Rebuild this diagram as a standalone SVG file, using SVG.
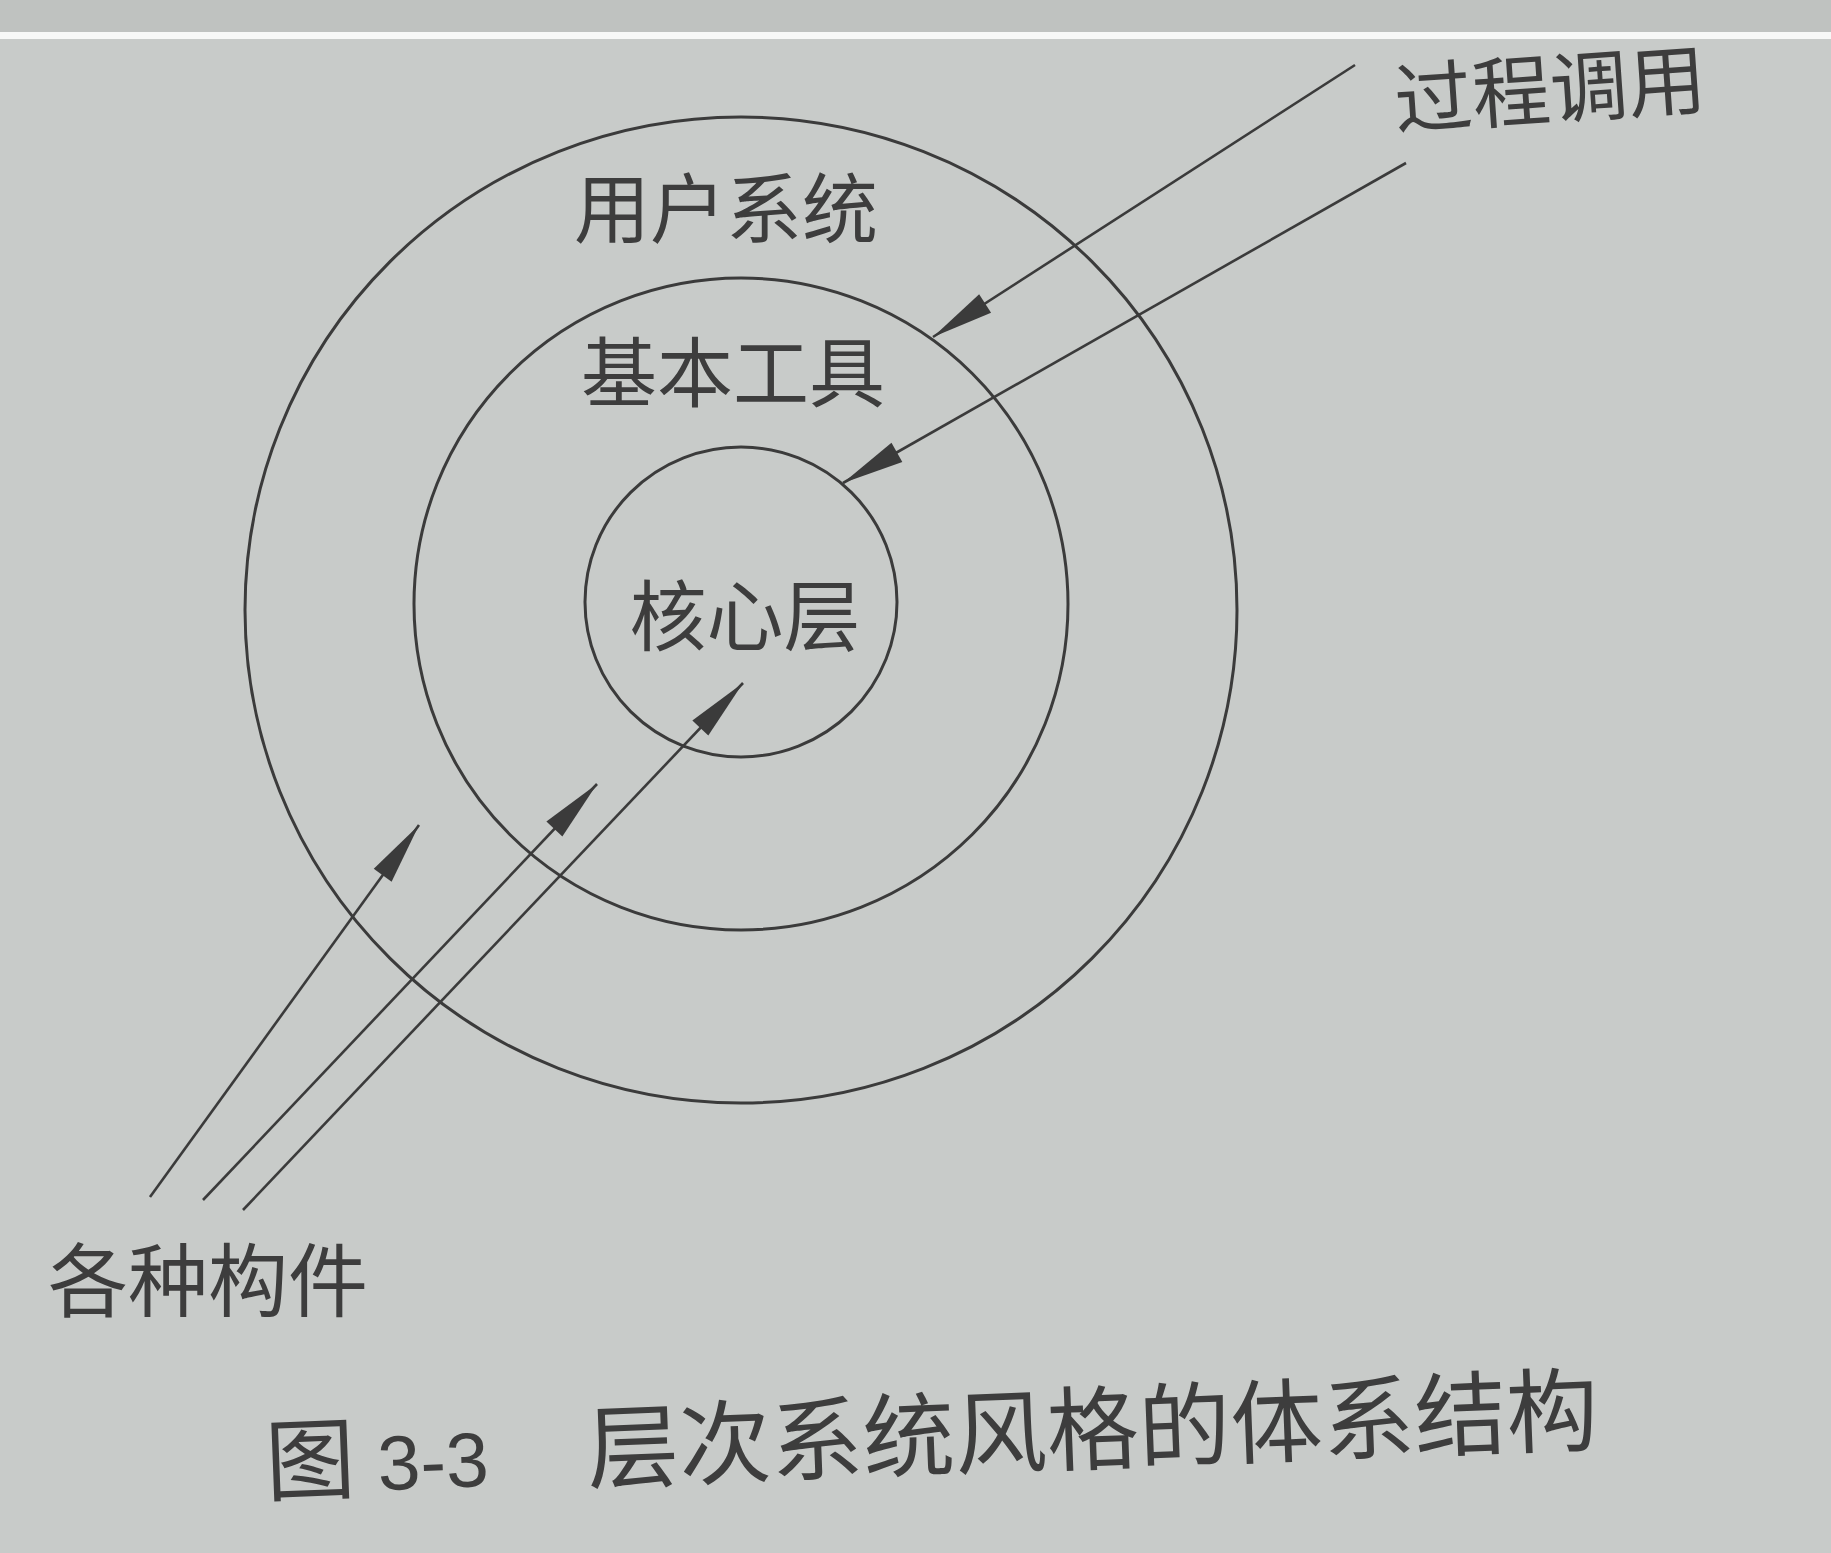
<svg xmlns="http://www.w3.org/2000/svg" width="1831" height="1553" viewBox="0 0 1831 1553">
  <style>
    .ring { fill: none; stroke: #3b3b3b; stroke-width: 3; }
    .conn { fill: none; stroke: #3b3b3b; stroke-width: 2.6; }
    .lbl { font-family: "Noto Sans CJK SC", "Noto Sans", sans-serif; fill: #3d3d3d; text-anchor: middle; }
    .cap { font-family: "Noto Sans CJK SC", "Noto Sans", sans-serif; fill: #3d3d3d; }
    .num { font-family: "Liberation Sans", "Noto Sans", sans-serif; fill: #3d3d3d; }
  </style>
  <defs>
    <marker id="ah" markerUnits="userSpaceOnUse" markerWidth="70" markerHeight="30" viewBox="-66 -15 70 30" refX="0" refY="0" orient="auto">
      <path d="M0,0 L-62,-11 L-62,11 Z" fill="#3b3b3b"/>
    </marker>
  </defs>

  <rect x="0" y="0" width="1831" height="1553" fill="#c8cbc9"/>
  <rect x="0" y="0" width="1831" height="32" fill="#bfc2c0"/>
  <rect x="0" y="32" width="1831" height="7" fill="#f7f8f7"/>

  <g id="user-system">
    <ellipse class="ring" cx="741" cy="610" rx="496" ry="493"/>
    <text class="lbl" x="726" y="237" font-size="76">用户系统</text>
  </g>

  <g id="basic-tools">
    <ellipse class="ring" cx="741" cy="604" rx="327" ry="326"/>
    <text class="lbl" x="733" y="401" font-size="76">基本工具</text>
  </g>

  <g id="core-layer">
    <ellipse class="ring" cx="741" cy="602" rx="156" ry="155"/>
    <text class="lbl" x="745" y="645" font-size="77">核心层</text>
  </g>

  <g id="procedure-call">
    <text class="lbl" x="1550" y="118" font-size="78" transform="rotate(-4 1550 90)">过程调用</text>
  </g>

  <g id="components">
    <text class="lbl" x="208" y="1310" font-size="80">各种构件</text>
  </g>

  <g id="connectors">
    <line class="conn" x1="1355" y1="65" x2="933" y2="337" marker-end="url(#ah)"/>
    <line class="conn" x1="1406" y1="163" x2="843" y2="483" marker-end="url(#ah)"/>
    <line class="conn" x1="150" y1="1197" x2="419" y2="825" marker-end="url(#ah)"/>
    <line class="conn" x1="203" y1="1200" x2="597" y2="784" marker-end="url(#ah)"/>
    <line class="conn" x1="243" y1="1210" x2="743" y2="683" marker-end="url(#ah)"/>
  </g>

  <g id="caption" transform="rotate(-2.2 930 1469)">
    <text class="cap" x="266" y="1469" font-size="90">图</text>
    <text class="num" x="378" y="1469" font-size="77">3-3</text>
    <text class="cap" x="588" y="1469" font-size="92" letter-spacing="0">层次系统风格的体系结构</text>
  </g>
</svg>
